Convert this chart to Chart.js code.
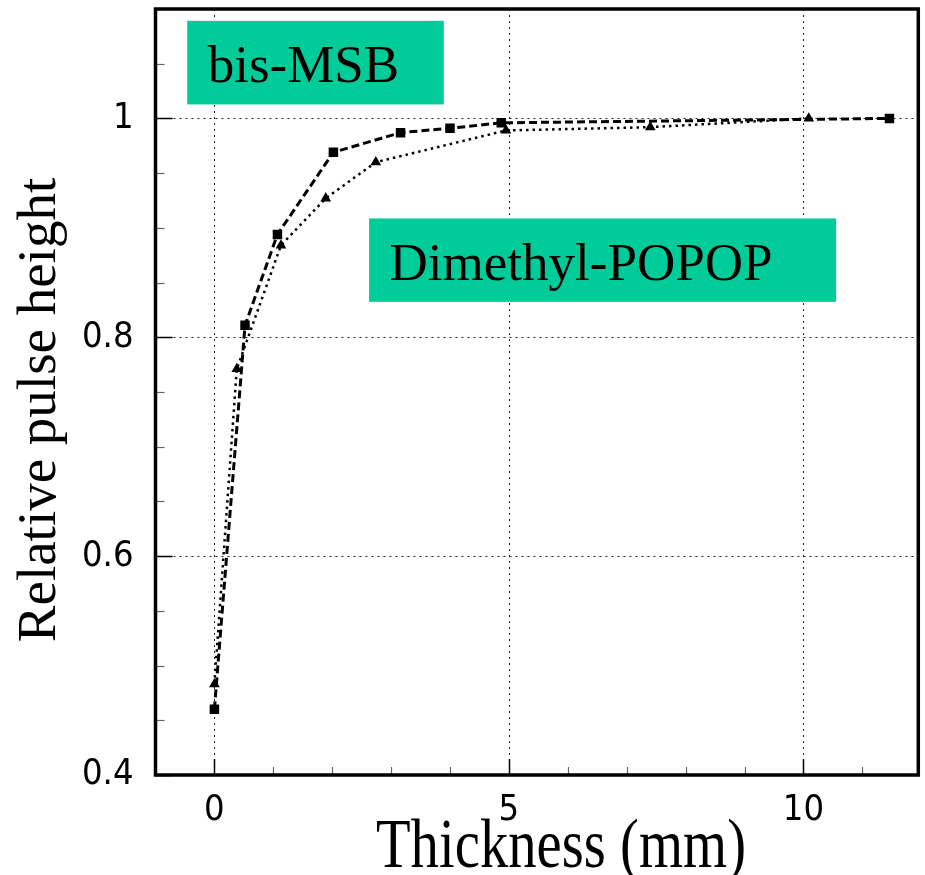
<!DOCTYPE html>
<html><head><meta charset="utf-8">
<script src="https://cdn.jsdelivr.net/npm/chart.js@4/dist/chart.umd.min.js"></script>
<style>html,body{margin:0;padding:0;background:#fff;}#wrap{width:925px;height:875px;}</style>
</head><body><div id="wrap"><canvas id="c" width="925" height="875"></canvas></div>
<script>
// ---- data ----
const seriesNames = ['bis-MSB', 'Dimethyl-POPOP'];
const msbThickness = [0, 0.52, 1.07, 2.02, 3.16, 4.0, 4.87, 11.46];
const msbHeight    = [0.460, 0.811, 0.894, 0.969, 0.987, 0.991, 0.996, 1.0];
const popopThickness = [0, 0.38, 1.13, 1.89, 2.74, 4.95, 7.40, 10.09];
const popopHeight    = [0.483, 0.771, 0.884, 0.927, 0.960, 0.989, 0.992, 1.0];
const xMajorTicks = [0, 5, 10];
const xTickLabels = ['0', '5', '10'];
const xMinorTicks = [1, 2, 3, 4, 6, 7, 8, 9, 11];
const yMajorTicks = [0.4, 0.6, 0.8, 1.0];
const yTickLabels = ['0.4', '0.6', '0.8', '1'];
const yMinorTicks = [0.45, 0.5, 0.55, 0.65, 0.7, 0.75, 0.85, 0.9, 0.95, 1.05];
const xTitle = 'Thickness (mm)';
const yTitle = 'Relative pulse height';

// label boxes (data coordinates)
const labelBoxes = [
  {text: seriesNames[0], x0: -0.462, x1: 3.894, y0: 1.0128, y1: 1.0892},
  {text: seriesNames[1], x0: 2.626, x1: 10.555, y0: 0.8324, y1: 0.9086}
];

const toPts = (xs, ys) => xs.map((v, i) => ({x: v, y: ys[i]}));
const tickFont = '"Liberation Sans Narrow", "DejaVu Sans Condensed", "Liberation Sans", Arial, sans-serif';

const decor = {
  id: 'decor',
  beforeDatasetsDraw(chart) {
    const {ctx, chartArea: a, scales: {x, y}} = chart;
    ctx.save();
    ctx.strokeStyle = '#222';
    ctx.lineWidth = 1;
    ctx.setLineDash([2, 4]);
    xMajorTicks.forEach(v => {
      const px = Math.round(x.getPixelForValue(v)) + 0.5;
      ctx.beginPath(); ctx.moveTo(px, a.top); ctx.lineTo(px, a.bottom); ctx.stroke();
    });
    yMajorTicks.forEach(v => {
      const py = Math.round(y.getPixelForValue(v)) + 0.5;
      ctx.beginPath(); ctx.moveTo(a.left, py); ctx.lineTo(a.right, py); ctx.stroke();
    });
    ctx.setLineDash([]);
    labelBoxes.forEach(b => {
      const l = x.getPixelForValue(b.x0), r = x.getPixelForValue(b.x1);
      const t = y.getPixelForValue(b.y1), bt = y.getPixelForValue(b.y0);
      ctx.fillStyle = '#00cc99';
      ctx.fillRect(l, t, r - l, bt - t);
      ctx.fillStyle = '#000';
      ctx.font = '53px "Liberation Serif", "Times New Roman", serif';
      ctx.textAlign = 'left';
      ctx.textBaseline = 'alphabetic';
      ctx.fillText(b.text, l + 20.5, t + 61.5);
    });
    ctx.restore();
  },
  afterDatasetsDraw(chart) {
    const {ctx, chartArea: a, scales: {x, y}} = chart;
    ctx.save();
    ctx.lineWidth = 1.5;
    ctx.strokeStyle = '#000';
    xMajorTicks.forEach(v => {
      const px = Math.round(x.getPixelForValue(v)) + 0.5;
      ctx.beginPath(); ctx.moveTo(px, a.bottom); ctx.lineTo(px, a.bottom - 16); ctx.stroke();
    });
    yMajorTicks.forEach(v => {
      const py = Math.round(y.getPixelForValue(v)) + 0.5;
      ctx.beginPath(); ctx.moveTo(a.left, py); ctx.lineTo(a.left + 17, py); ctx.stroke();
    });
    ctx.lineWidth = 1.2;
    ctx.strokeStyle = '#666';
    xMinorTicks.forEach(v => {
      const px = Math.round(x.getPixelForValue(v)) + 0.5;
      ctx.beginPath(); ctx.moveTo(px, a.bottom); ctx.lineTo(px, a.bottom - 8); ctx.stroke();
    });
    yMinorTicks.forEach(v => {
      const py = Math.round(y.getPixelForValue(v)) + 0.5;
      ctx.beginPath(); ctx.moveTo(a.left, py); ctx.lineTo(a.left + 9, py); ctx.stroke();
    });
    ctx.lineWidth = 3.5;
    ctx.strokeStyle = '#000';
    ctx.strokeRect(a.left, a.top, a.right - a.left, a.bottom - a.top);
    ctx.restore();
  },
  afterDraw(chart) {
    const {ctx} = chart;
    ctx.save();
    ctx.fillStyle = '#000';
    ctx.textAlign = 'center';
    ctx.textBaseline = 'alphabetic';
    ctx.save();
    ctx.translate(55, 410);
    ctx.rotate(-Math.PI / 2);
    ctx.font = '55px "Liberation Serif", "Times New Roman", serif';
    ctx.fillText(yTitle, 0, 0);
    ctx.restore();
    ctx.save();
    ctx.translate(561, 867);
    ctx.scale(0.81, 1);
    ctx.font = '70px "Liberation Serif", "Times New Roman", serif';
    ctx.fillText(xTitle, 0, 0);
    ctx.restore();
    ctx.restore();
  }
};

new Chart(document.getElementById('c'), {
  type: 'line',
  data: {
    datasets: [
      {
        label: seriesNames[0],
        data: toPts(msbThickness, msbHeight),
        borderColor: '#000', backgroundColor: '#000',
        borderWidth: 3, borderDash: [8, 4],
        pointStyle: 'rect', pointRadius: 6.7, pointBorderWidth: 0,
        tension: 0, fill: false
      },
      {
        label: seriesNames[1],
        data: toPts(popopThickness, popopHeight),
        borderColor: '#000', backgroundColor: '#000',
        borderWidth: 2.5, borderDash: [2.5, 4],
        pointStyle: 'triangle', pointRadius: 6.2, pointBorderWidth: 0,
        tension: 0, fill: false
      }
    ]
  },
  options: {
    responsive: false,
    animation: false,
    devicePixelRatio: 1,
    layout: {padding: {top: 9, right: 3.5, left: 0, bottom: 0}},
    plugins: {legend: {display: false}, tooltip: {enabled: false}},
    scales: {
      x: {
        type: 'linear', min: -1, max: 11.95,
        afterBuildTicks: s => { s.ticks = xMajorTicks.map(v => ({value: v})); },
        afterFit: s => { s.height = 100; s.paddingLeft = 0; s.paddingRight = 0; },
        grid: {display: false},
        border: {display: false},
        ticks: {
          autoSkip: false, maxRotation: 0, padding: 6, color: '#000',
          font: {family: tickFont, size: 36},
          callback: (v, i) => xTickLabels[i]
        }
      },
      y: {
        type: 'linear', min: 0.4, max: 1.1,
        afterBuildTicks: s => { s.ticks = yMajorTicks.map(v => ({value: v})); },
        afterFit: s => { s.width = 155.5; s.paddingTop = 0; s.paddingBottom = 0; },
        grid: {display: false},
        border: {display: false},
        ticks: {
          autoSkip: false, padding: 14, color: '#000',
          font: {family: tickFont, size: 36},
          callback: (v, i) => yTickLabels[i]
        }
      }
    }
  },
  plugins: [decor]
});
</script></body></html>
